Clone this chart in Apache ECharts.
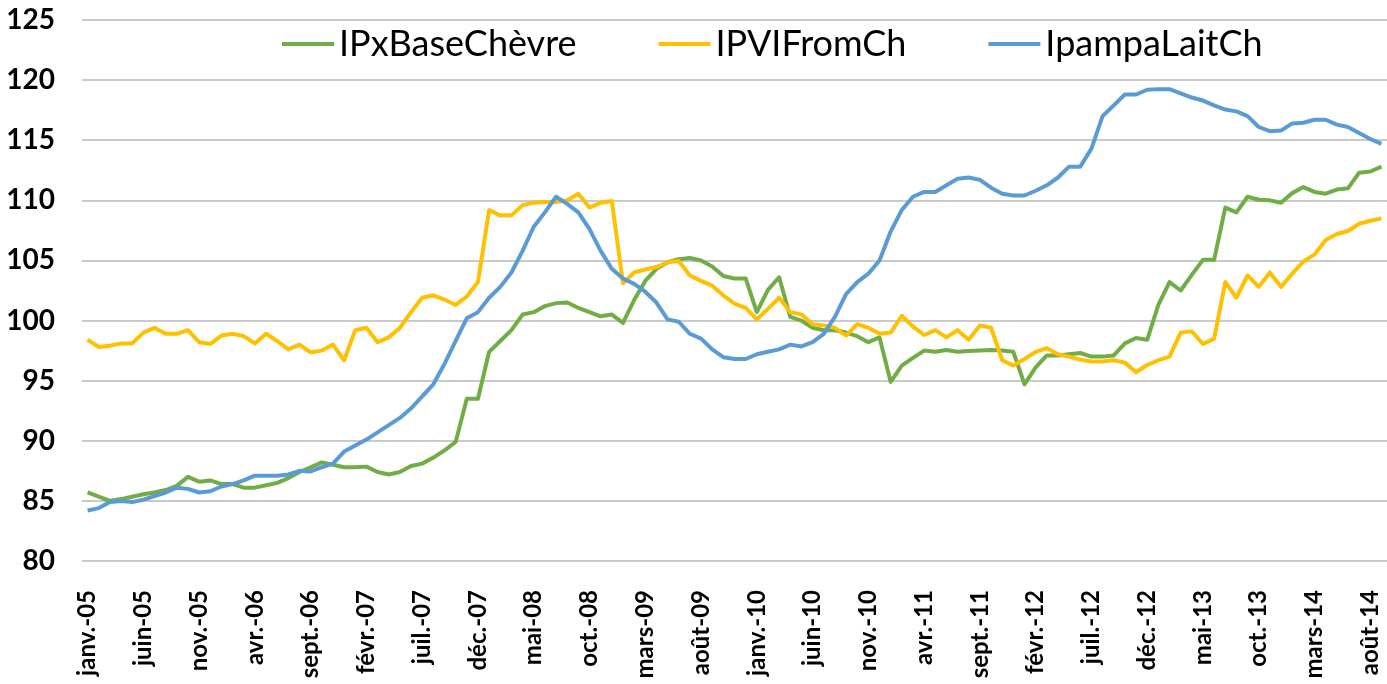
<!DOCTYPE html>
<html>
<head>
<meta charset="utf-8">
<script src="https://cdn.jsdelivr.net/npm/echarts@6/dist/echarts.min.js"></script>
<style>
  html, body { margin: 0; padding: 0; background: #fff; }
  #chart { width: 1387px; height: 684px; }
</style>
</head>
<body>
<div id="chart"></div>
<script>
// mois au format Excel "mmm-aa"
const monthNames = ['janv.', 'févr.', 'mars', 'avr.', 'mai', 'juin', 'juil.', 'août', 'sept.', 'oct.', 'nov.', 'déc.'];
const years = ['05', '06', '07', '08', '09', '10', '11', '12', '13', '14'];
const nbMonths = 117; // janv.-05 ... sept.-14 (le dernier point est coupé au bord)

const ipxBaseChevre = [
  85.7, 85.35, 85.0, 85.15, 85.35, 85.55, 85.7, 85.9, 86.25, 87.0,
  86.6, 86.7, 86.4, 86.4, 86.1, 86.1, 86.3, 86.5, 86.9, 87.4,
  87.8, 88.2, 88.0, 87.8, 87.8, 87.85, 87.4, 87.2, 87.4, 87.9,
  88.1, 88.6, 89.2, 89.9, 93.5, 93.5, 97.4, 98.3, 99.2, 100.5,
  100.7, 101.2, 101.45, 101.5, 101.05, 100.7, 100.35, 100.5, 99.8, 101.7,
  103.3, 104.3, 104.85, 105.1, 105.2, 105.0, 104.5, 103.7, 103.5, 103.5,
  100.7, 102.55, 103.6, 100.3, 100.0, 99.4, 99.2, 99.2, 99.0, 98.7,
  98.2, 98.6, 94.9, 96.25, 96.9, 97.5, 97.4, 97.55, 97.4, 97.47,
  97.5, 97.55, 97.5, 97.4, 94.7, 96.1, 97.1, 97.1, 97.2, 97.3,
  97.0, 97.0, 97.1, 98.1, 98.55, 98.4, 101.3, 103.2, 102.5, 103.8,
  105.05, 105.05, 109.4, 109.0, 110.3, 110.05, 110.0, 109.8, 110.6, 111.1,
  110.7, 110.55, 110.9, 111.0, 112.3, 112.4, 112.8
];

const ipviFromCh = [
  98.4, 97.8, 97.9, 98.1, 98.1, 99.0, 99.4, 98.9, 98.9, 99.2,
  98.2, 98.05, 98.75, 98.9, 98.7, 98.1, 98.9, 98.3, 97.6, 98.0,
  97.36, 97.5, 98.0, 96.7, 99.2, 99.4, 98.2, 98.6, 99.4, 100.7,
  101.9, 102.1, 101.75, 101.3, 102.0, 103.2, 109.2, 108.75, 108.75, 109.6,
  109.8, 109.86, 109.86, 110.0, 110.55, 109.4, 109.8, 109.95, 103.1, 104.0,
  104.25, 104.45, 104.85, 104.95, 103.75, 103.3, 102.9, 102.1, 101.4, 101.05,
  100.1, 100.97, 101.9, 100.7, 100.5, 99.7, 99.6, 99.4, 98.75, 99.7,
  99.4, 98.9, 99.0, 100.4, 99.5, 98.8, 99.2, 98.6, 99.2, 98.4,
  99.6, 99.4, 96.7, 96.25, 96.8, 97.4, 97.7, 97.2, 97.0, 96.75,
  96.6, 96.6, 96.7, 96.5, 95.7, 96.3, 96.7, 97.0, 99.0, 99.1,
  98.05, 98.5, 103.2, 101.9, 103.75, 102.8, 104.0, 102.8, 103.9, 104.9,
  105.5, 106.7, 107.2, 107.45, 108.05, 108.3, 108.5
];

const ipampaLaitCh = [
  84.2, 84.4, 84.9, 85.0, 84.9, 85.1, 85.4, 85.7, 86.1, 86.0,
  85.7, 85.8, 86.2, 86.4, 86.7, 87.1, 87.1, 87.1, 87.2, 87.5,
  87.45, 87.8, 88.1, 89.1, 89.6, 90.1, 90.7, 91.3, 91.9, 92.7,
  93.7, 94.7, 96.4, 98.3, 100.2, 100.7, 101.9, 102.8, 104.0, 105.8,
  107.8, 109.0, 110.3, 109.7, 109.0, 107.6, 105.8, 104.3, 103.5, 103.05,
  102.4, 101.5, 100.1, 99.9, 98.9, 98.5, 97.6, 96.95, 96.8, 96.8,
  97.2, 97.4, 97.6, 98.0, 97.85, 98.2, 98.9, 100.3, 102.2, 103.2,
  103.9, 105.0, 107.4, 109.2, 110.3, 110.7, 110.7, 111.25, 111.8, 111.9,
  111.7, 111.05, 110.55, 110.4, 110.4, 110.8, 111.25, 111.9, 112.8, 112.8,
  114.3, 117.0, 117.9, 118.8, 118.8, 119.2, 119.25, 119.25, 118.9, 118.55,
  118.3, 117.9, 117.55, 117.4, 117.0, 116.1, 115.75, 115.8, 116.4, 116.45,
  116.7, 116.7, 116.3, 116.1, 115.6, 115.1, 114.7
];

const categories = [];
years.forEach(y => {
  monthNames.forEach(m => {
    if (categories.length < nbMonths) categories.push(m + '-' + y);
  });
});

const chart = echarts.init(document.getElementById('chart'));

const lineSerie = (name, color, data) => ({
  name: name,
  type: 'line',
  data: data,
  showSymbol: false,
  symbol: 'none',
  lineStyle: { color: color, width: 4, join: 'round', cap: 'butt' },
  itemStyle: { color: color },
  emphasis: { disabled: true }
});

chart.setOption({
  animation: false,
  backgroundColor: '#ffffff',
  textStyle: { fontFamily: 'Lato' },
  legend: {
    left: 277,
    top: 21,
    itemWidth: 52,
    itemHeight: 4,
    itemGap: 82,
    icon: 'rect',
    textStyle: { fontFamily: 'Lato', fontSize: 36, color: '#000' },
    data: ['IPxBaseChèvre', 'IPVIFromCh', 'IpampaLaitCh']
  },
  grid: {
    left: 82,
    top: 20,
    height: 541,
    width: 11.21 * nbMonths,
    containLabel: false
  },
  xAxis: {
    type: 'category',
    data: categories,
    boundaryGap: true,
    axisLine: { show: false },
    axisTick: { show: false },
    axisLabel: {
      interval: 4,
      rotate: 90,
      margin: 29,
      color: '#000',
      fontFamily: 'Lato',
      fontWeight: 'bold',
      fontSize: 24
    },
    splitLine: { show: false }
  },
  yAxis: {
    type: 'value',
    min: 80,
    max: 125,
    interval: 5,
    axisLine: { show: false },
    axisTick: { show: false },
    axisLabel: {
      margin: 27,
      color: '#000',
      fontFamily: 'Lato',
      fontWeight: 'bold',
      fontSize: 28
    },
    splitLine: { lineStyle: { color: '#b8b8b8', width: 1.5 } }
  },
  series: [
    lineSerie('IPxBaseChèvre', '#70AD47', ipxBaseChevre),
    lineSerie('IPVIFromCh', '#FFC000', ipviFromCh),
    lineSerie('IpampaLaitCh', '#5B9BD5', ipampaLaitCh)
  ]
});
</script>
</body>
</html>
